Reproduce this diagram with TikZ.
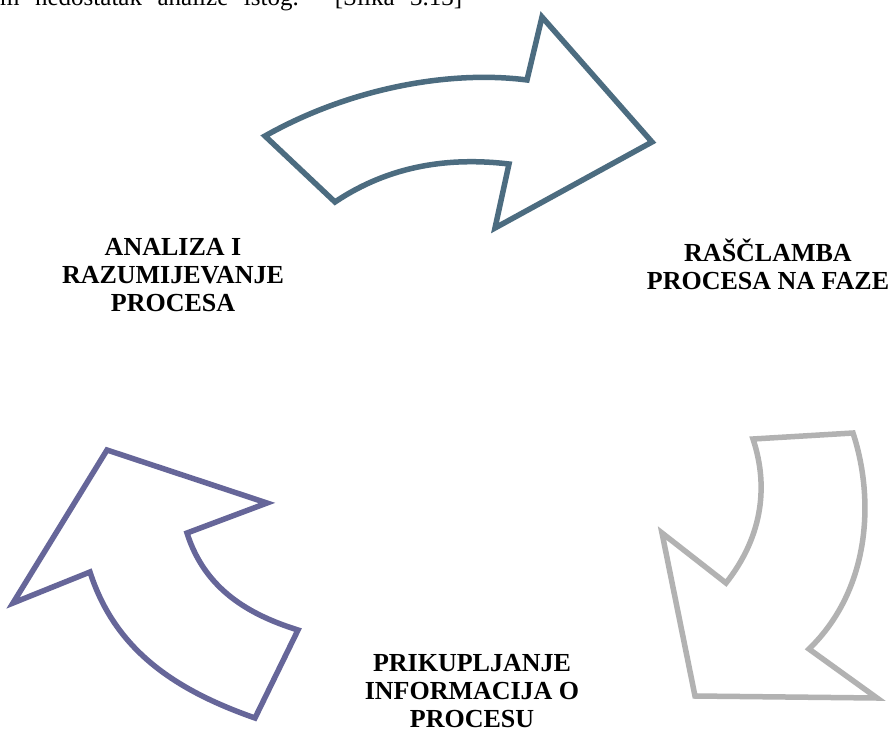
\documentclass[tikz,border=0pt]{standalone}
\usepackage{fontspec}
\setmainfont{Liberation Serif}
\definecolor{slateblue}{RGB}{76,108,128}
\definecolor{lightgrey}{RGB}{178,178,178}
\definecolor{lilac}{RGB}{102,102,153}
\tikzset{
    korak/.style={font=\fontsize{26}{28}\selectfont\bfseries, align=center, inner sep=0pt, anchor=base},
    strelica/.style={line width=5.5pt, line join=miter, fill=white}
}
\begin{document}
\begin{tikzpicture}[x=1pt,y=-1pt]
        \useasboundingbox (0,0) rectangle (895,731);
        \clip (0,0) rectangle (895,731);
        \fill[white] (0,0) rectangle (895,731);

        % cut-off line of the text above
        \node[anchor=base west, inner sep=0pt, font=\fontsize{25}{28}\selectfont] (tekst) at (0,5)
            {\makebox[462pt][s]{m nedostatak analize istog. [Slika 3.13]}};

        % arrows
        \draw[strelica, draw=slateblue] (265,136) .. controls (350,88) and (450,70) .. (527,80)
            -- (542,17) -- (652,142) -- (495,228) -- (509,164)
            .. controls (450,157) and (390,165) .. (335,202) -- cycle;
        \draw[strelica, draw=lightgrey] (753,439) -- (853,433)
            .. controls (875,500) and (870,590) .. (809,649)
            -- (877,698) -- (695,696) -- (662,533) -- (726,583)
            .. controls (760,540) and (770,490) .. (753,439) -- cycle;
        \draw[strelica, draw=lilac] (107,450) -- (267,503) -- (187,533)
            .. controls (205,590) and (250,615) .. (298,630)
            -- (255,718) .. controls (175,690) and (115,650) .. (90,572)
            -- (13,603) -- cycle;

        % steps (base = last line)
        \node[korak] (analiza) at (173,311) {ANALIZA I\\RAZUMIJEVANJE\\PROCESA};
        \node[korak] (rasclamba) at (768,289) {RAŠČLAMBA\\PROCESA NA FAZE};
        \node[korak] (prikupljanje) at (472,727) {PRIKUPLJANJE\\INFORMACIJA O\\PROCESU};
\end{tikzpicture}
\end{document}
